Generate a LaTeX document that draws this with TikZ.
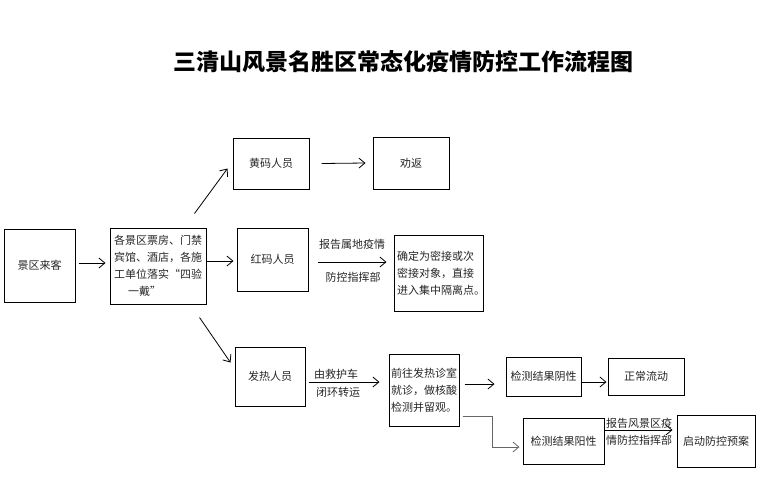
\documentclass[tikz,border=0pt]{standalone}
\usepackage{fontspec}
\setmainfont{Noto Sans CJK SC}
\usetikzlibrary{arrows.meta}
\begin{document}
\begin{tikzpicture}[x=1pt,y=-1pt,
  box/.style={draw, line width=1pt, inner sep=0pt, font=\fontsize{11}{17}\selectfont, text=black!85},
  arr/.style={line width=0.8pt, -{Straight Barb[length=6pt,width=10pt,line width=0.8pt]}},
  lbl/.style={inner sep=0pt, font=\fontsize{11}{17}\selectfont, text=black!85}]
\useasboundingbox (0,0) rectangle (765,485);
\node[font=\fontsize{23}{23}\selectfont\bfseries] (title) at (403,62) {三清山风景名胜区常态化疫情防控工作流程图};

\node[box, minimum width=71, minimum height=73] (visit) at (39.5,265.5) {景区来客};
\node[box, minimum width=96, minimum height=76, text width=88, align=left] (check) at (158,266)
  {各景区票房、门禁\\宾馆、酒店，各施\\工单位落实“四验\\\hspace*{14pt}一戴”};
\node[box, minimum width=76, minimum height=51] (yellow) at (271,163.5) {黄码人员};
\node[box, minimum width=71, minimum height=63] (red) at (272.5,259.5) {红码人员};
\node[box, minimum width=76, minimum height=52] (back) at (411,163) {劝返};
\node[box, minimum width=89, minimum height=76, text width=83, align=left] (close) at (438.5,273)
  {确定为密接或次\\密接对象，直接\\进入集中隔离点。};
\node[box, minimum width=70, minimum height=59] (fever) at (270,376.5) {发热人员};
\node[box, minimum width=70, minimum height=72, align=center] (clinic) at (424,390)
  {前往发热诊室\\就诊，做核酸\\检测并留观。};
\node[box, minimum width=75, minimum height=39] (neg) at (543.5,376.5) {检测结果阴性};
\node[box, minimum width=76, minimum height=37] (normal) at (646,376.5) {正常流动};
\node[box, minimum width=81, minimum height=46] (pos) at (563.5,441) {检测结果阳性};
\node[box, minimum width=78, minimum height=52] (plan) at (716,441) {启动防控预案};

\draw[arr] ([shift={(3,-2.5)}]visit.east) -- ([shift={(-4,-3)}]check.west);
\draw[arr] ([shift={(0,-5)}]check.east) -- ([shift={(-3,1.5)}]red.west);
\draw[arr] ([shift={(-12,-14)}]check.north east) -- ([shift={(-5,-21)}]yellow.south west);
\draw[arr] ([shift={(-7,13)}]check.south east) -- ([shift={(-4,16)}]fever.north west);
\draw[arr] ([shift={(12,0)}]yellow.east) -- ([shift={(-7,0)}]back.west);
\draw[arr] ([shift={(9,2.5)}]red.east) -- ([shift={(-7,-11)}]close.west);
\node[lbl] (l1) at (352,244) {报告属地疫情};
\node[lbl] (l2) at (353,277) {防控指挥部};
\draw[arr] ([shift={(3,5.5)}]fever.east) -- ([shift={(-9,-8)}]clinic.west);
\node[lbl, anchor=west] (l3) at (314,374) {由救护车};
\node[lbl, anchor=west] (l4) at (316,392) {闭环转运};
\draw[arr] ([shift={(5,-6)}]clinic.east) -- ([shift={(-11,7.5)}]neg.west);
\draw[arr, draw=black!60] ([shift={(3,26)}]clinic.east) -- ++(30,0) |- ([shift={(-3,6)}]pos.west);
\draw[arr] ([shift={(0,5.5)}]neg.east) -- ([shift={(-1,5.5)}]normal.west);
\draw[arr] ([shift={(0,-11)}]pos.east) -- ([shift={(-4,-11)}]plan.west);
\node[lbl] (l5) at (639,423) {报告风景区疫};
\node[lbl] (l6) at (639,440) {情防控指挥部};
\end{tikzpicture}
\end{document}
